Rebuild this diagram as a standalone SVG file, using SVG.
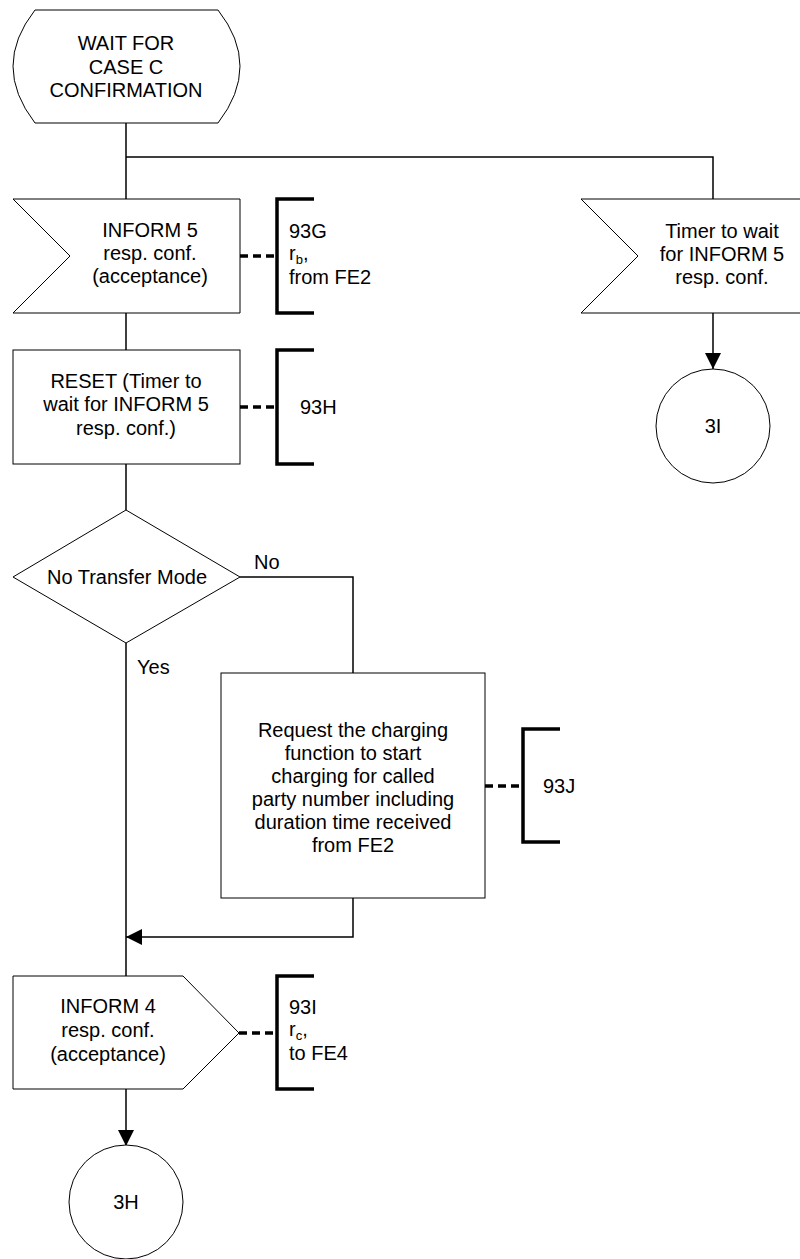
<svg xmlns="http://www.w3.org/2000/svg" width="800" height="1259" viewBox="0 0 800 1259">
<style>
.s{fill:#fff;stroke:#000;stroke-width:1}
.t{font-family:"Liberation Sans",Arial,sans-serif;font-size:20px;fill:#000;text-anchor:middle}
.l{font-family:"Liberation Sans",Arial,sans-serif;font-size:20px;fill:#000}
.c{fill:none;stroke:#000;stroke-width:1.5}
.d{fill:none;stroke:#000;stroke-width:3.5;stroke-dasharray:8,5}
.b{fill:none;stroke:#000;stroke-width:3.5}
</style>
<defs>
<marker id="ah" viewBox="0 0 16 16" refX="16" refY="8" markerWidth="16" markerHeight="16" markerUnits="userSpaceOnUse" orient="auto">
<path d="M0,0 L16,8 L0,16 Z" fill="#000"/>
</marker>
</defs>
<rect width="800" height="1259" fill="#fff"/>
<g id="connectors">
<path class="c" d="M126,123 V199"/>
<path class="c" d="M126,157 H713 V199"/>
<path class="c" d="M713,313 V369" marker-end="url(#ah)"/>
<path class="c" d="M126,313 V350"/>
<path class="c" d="M126,464 V510"/>
<path class="c" d="M240,577 H353 V673"/>
<path class="c" d="M126,643 V976"/>
<path class="c" d="M353,898 V937 H126" marker-end="url(#ah)"/>
<path class="c" d="M126,1089 V1146" marker-end="url(#ah)"/>
<path class="d" d="M240,256 H277"/>
<path class="d" d="M240,407 H277"/>
<path class="d" d="M485,786 H523"/>
<path class="d" d="M239,1033 H277"/>
</g>
<g id="start">
<path class="s" d="M35,10 H218 Q262,66 218,123 H35 Q-9,66 35,10 Z"/>
<text class="t" x="126" y="50">WAIT FOR</text>
<text class="t" x="126" y="74">CASE C</text>
<text class="t" x="126" y="97">CONFIRMATION</text>
</g>
<g id="inform5">
<path class="s" d="M13,199 H240 V313 H13 L70,256 Z"/>
<text class="t" x="150" y="237">INFORM 5</text>
<text class="t" x="150" y="260">resp. conf.</text>
<text class="t" x="150" y="283">(acceptance)</text>
</g>
<g id="c93G">
<path class="b" d="M314,199 H277 V313 H314"/>
<text class="l" x="289" y="238">93G</text>
<text class="l" x="289" y="260">r<tspan font-size="13" dy="4">b</tspan><tspan dy="-4">,</tspan></text>
<text class="l" x="289" y="284">from FE2</text>
</g>
<g id="timer">
<path class="s" d="M581,199 H802 V313 H581 L638,256 Z"/>
<text class="t" x="722" y="238">Timer to wait</text>
<text class="t" x="722" y="261">for INFORM 5</text>
<text class="t" x="722" y="284">resp. conf.</text>
</g>
<g id="c3I">
<circle class="s" cx="713" cy="426" r="57"/>
<text class="t" x="713" y="433">3I</text>
</g>
<g id="reset">
<rect class="s" x="13" y="350" width="227" height="114"/>
<text class="t" x="126" y="388">RESET (Timer to</text>
<text class="t" x="126" y="411">wait for INFORM 5</text>
<text class="t" x="126" y="435">resp. conf.)</text>
</g>
<g id="c93H">
<path class="b" d="M314,350 H277 V464 H314"/>
<text class="l" x="300" y="414">93H</text>
</g>
<g id="decision">
<path class="s" d="M126,510 L240,577 L126,643 L13,577 Z"/>
<text class="t" x="127" y="584">No Transfer Mode</text>
<text class="l" x="254" y="569">No</text>
<text class="l" x="137" y="674">Yes</text>
</g>
<g id="charging">
<rect class="s" x="221" y="673" width="264" height="225"/>
<text class="t" x="353" y="737">Request the charging</text>
<text class="t" x="353" y="760">function to start</text>
<text class="t" x="353" y="783">charging for called</text>
<text class="t" x="353" y="806">party number including</text>
<text class="t" x="353" y="829">duration time received</text>
<text class="t" x="353" y="852">from FE2</text>
</g>
<g id="c93J">
<path class="b" d="M560,729 H523 V842 H560"/>
<text class="l" x="543" y="793">93J</text>
</g>
<g id="inform4">
<path class="s" d="M13,976 H183 L239,1033 L183,1089 H13 Z"/>
<text class="t" x="108" y="1013">INFORM 4</text>
<text class="t" x="108" y="1037">resp. conf.</text>
<text class="t" x="108" y="1061">(acceptance)</text>
</g>
<g id="c93I">
<path class="b" d="M314,976 H277 V1089 H314"/>
<text class="l" x="289" y="1014">93I</text>
<text class="l" x="289" y="1036">r<tspan font-size="13" dy="4">c</tspan><tspan dy="-4">,</tspan></text>
<text class="l" x="289" y="1060">to FE4</text>
</g>
<g id="c3H">
<circle class="s" cx="126" cy="1202" r="57"/>
<text class="t" x="126" y="1209">3H</text>
</g>
</svg>
